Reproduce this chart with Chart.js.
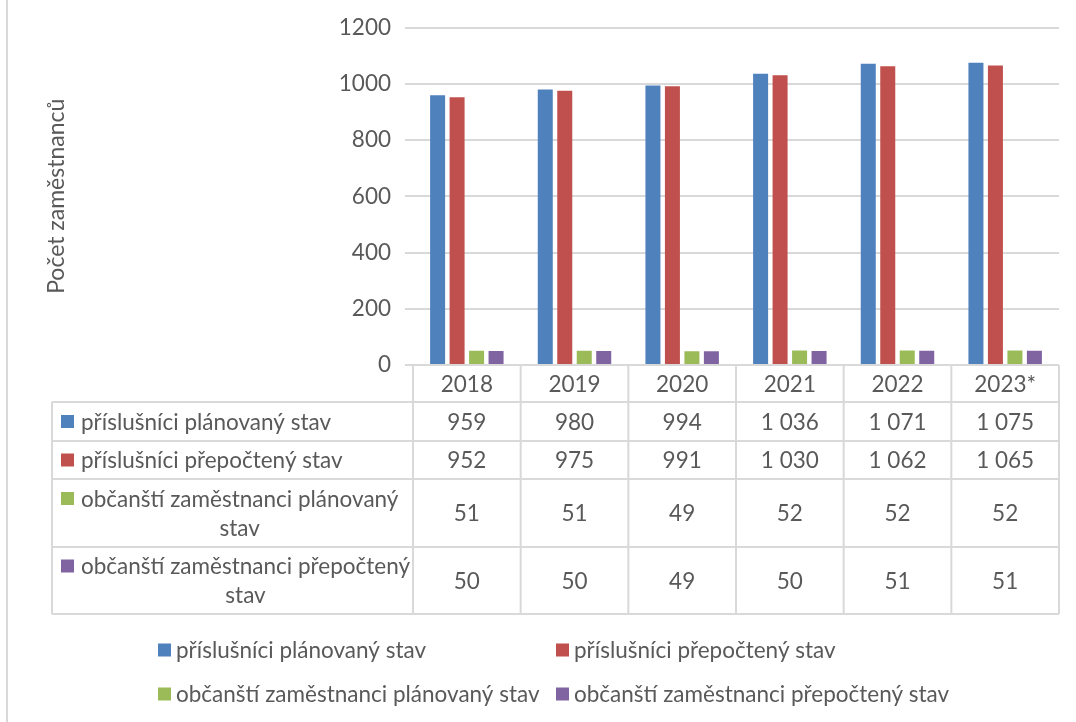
<!DOCTYPE html>
<html>
<head>
<meta charset="utf-8">
<script src="https://cdn.jsdelivr.net/npm/chart.js@4"></script>
<style>
	body { margin: 0; background: #fff; }
	#wrap { width: 1076px; height: 722px; position: relative; }
</style>
</head>
<body>
<div id="wrap"><canvas id="myChart"></canvas></div>
<script>
const years = ["2018", "2019", "2020", "2021", "2022", "2023*"];
const seriesNames = [
	"příslušníci plánovaný stav",
	"příslušníci přepočtený stav",
	"občanští zaměstnanci plánovaný stav",
	"občanští zaměstnanci přepočtený stav",
];
// how the series names wrap inside the data table
const tableLabelLines = [
	["příslušníci plánovaný stav"],
	["příslušníci přepočtený stav"],
	["občanští zaměstnanci plánovaný", "stav"],
	["občanští zaměstnanci přepočtený", "stav"],
];
const prislusniciPlan = [959, 980, 994, 1036, 1071, 1075];
const prislusniciPrepocet = [952, 975, 991, 1030, 1062, 1065];
const obcanstiPlan = [51, 51, 49, 52, 52, 52];
const obcanstiPrepocet = [50, 50, 49, 50, 51, 51];
const colors = ["#4f81bd", "#c0504d", "#9bbb59", "#8064a2"];
const yTitle = "Počet zaměstnanců";

const textColor = "#595959";
const lineColor = "#d9d9d9";
const fontFamily = "Lato, 'Open Sans', sans-serif";
const fontSize = 22.5;

function formatNum(v) {
	return String(v).replace(/\B(?=(\d{3})+(?!\d))/g, " ");
}

// data table under the plot + legend at the bottom
const tablePlugin = {
	id: "dataTable",
	afterDraw(chart) {
		const ctx = chart.ctx;
		const xs = chart.scales.x;
		const area = chart.chartArea;
		const colW = (area.right - area.left) / years.length;
		const labelLeft = 52;
		const rowEdges = [area.bottom, 402, 441, 479, 547, 614];
		const sets = chart.data.datasets;

		ctx.save();
		ctx.strokeStyle = lineColor;
		ctx.lineWidth = 2;
		ctx.font = fontSize + "px " + fontFamily;
		ctx.fillStyle = textColor;
		ctx.textBaseline = "middle";

		// horizontal lines
		ctx.beginPath();
		ctx.moveTo(area.left, rowEdges[0]);
		ctx.lineTo(area.right, rowEdges[0]);
		for (let r = 1; r < rowEdges.length; r++) {
			ctx.moveTo(labelLeft, rowEdges[r]);
			ctx.lineTo(area.right, rowEdges[r]);
		}
		// vertical lines
		ctx.moveTo(labelLeft, rowEdges[1]);
		ctx.lineTo(labelLeft, rowEdges[5]);
		for (let i = 0; i <= years.length; i++) {
			let x = area.left + i * colW;
			ctx.moveTo(x, rowEdges[0]);
			ctx.lineTo(x, rowEdges[5]);
		}
		ctx.stroke();

		// header
		ctx.textAlign = "center";
		years.forEach((y, i) => {
			ctx.fillText(y, xs.getPixelForValue(i), (rowEdges[0] + rowEdges[1]) / 2 + 1);
		});

		// rows
		sets.forEach((ds, r) => {
			const top = rowEdges[r + 1];
			const bottom = rowEdges[r + 2];
			const mid = (top + bottom) / 2;
			ds.data.forEach((v, i) => {
				ctx.textAlign = "center";
				ctx.fillText(formatNum(v), xs.getPixelForValue(i), mid + 1);
			});
			const lines = tableLabelLines[r];
			const lh = 29;
			const y0 = mid - ((lines.length - 1) * lh) / 2;
			const textX = 81;
			const widest = Math.max(...lines.map((l) => ctx.measureText(l).width));
			ctx.fillStyle = colors[r];
			ctx.fillRect(61, y0 - 6.5, 13, 13);
			ctx.fillStyle = textColor;
			lines.forEach((l, k) => {
				if (k === 0) {
					ctx.textAlign = "left";
					ctx.fillText(l, textX, y0 + 1);
				} else {
					ctx.textAlign = "center";
					ctx.fillText(l, textX + widest / 2, y0 + k * lh + 1);
				}
			});
		});

		// legend
		const legPos = [
			[158, 650],
			[556, 650],
			[158, 694],
			[556, 694],
		];
		ctx.textAlign = "left";
		sets.forEach((ds, r) => {
			const [lx, ly] = legPos[r];
			ctx.fillStyle = colors[r];
			ctx.fillRect(lx, ly - 6.5, 13, 13);
			ctx.fillStyle = textColor;
			ctx.fillText(ds.label, lx + 18, ly + 1);
		});

		// outer frame left edge
		ctx.beginPath();
		ctx.moveTo(7, 0);
		ctx.lineTo(7, chart.height);
		ctx.stroke();
		ctx.restore();
	},
};

const allSeries = [prislusniciPlan, prislusniciPrepocet, obcanstiPlan, obcanstiPrepocet];

var myChart = new Chart(document.getElementById("myChart"), {
	type: "bar",
	data: {
		labels: years,
		datasets: allSeries.map((d, i) => ({
			label: seriesNames[i],
			data: d,
			backgroundColor: colors[i],
			categoryPercentage: 0.724,
			barPercentage: 0.77,
		})),
	},
	plugins: [tablePlugin],
	options: {
		responsive: true,
		maintainAspectRatio: false,
		animation: false,
		layout: {
			padding: { left: 0, top: 27, right: 17, bottom: 357 },
		},
		plugins: {
			legend: { display: false },
			tooltip: { enabled: false },
		},
		scales: {
			x: {
				display: false,
			},
			y: {
				min: 0,
				max: 1200,
				ticks: {
					stepSize: 200,
					color: textColor,
					padding: 14,
					font: { family: fontFamily, size: fontSize },
					callback: (v) => String(v),
				},
				grid: {
					color: lineColor,
					lineWidth: 2,
					tickLength: 8,
				},
				border: { display: false },
				title: {
					display: true,
					text: yTitle,
					color: textColor,
					font: { family: fontFamily, size: 23 },
					padding: { top: 43, bottom: 0 },
				},
				afterFit: (scale) => {
					scale.width = 413;
				},
			},
		},
	},
});
</script>
</body>
</html>
